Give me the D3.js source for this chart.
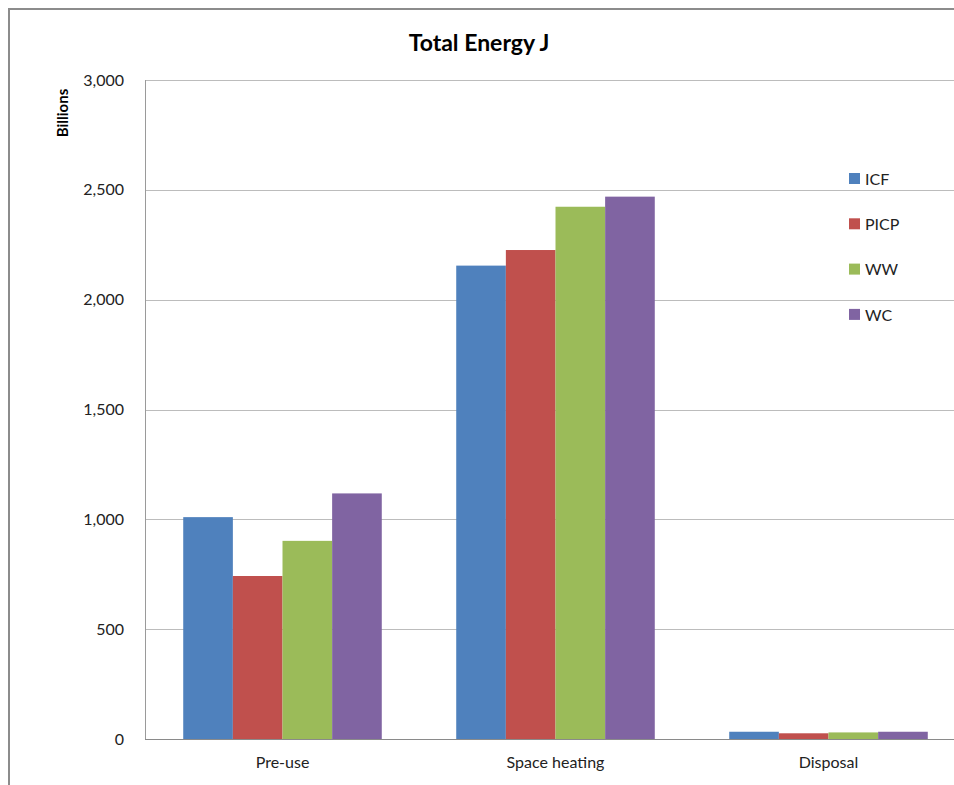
<!DOCTYPE html>
<html>
<head>
<meta charset="utf-8">
<script src="https://cdn.jsdelivr.net/npm/d3@7"></script>
<style>
  html, body { margin: 0; padding: 0; background: #fff; }
  svg { display: block; }
</style>
</head>
<body>
<svg id="chart" width="954" height="785"></svg>
<script>
// Total energy per life-cycle stage, billions of joules
const categories = ["Pre-use", "Space heating", "Disposal"];
const seriesNames = ["ICF", "PICP", "WW", "WC"];
const icf  = [1010, 2155, 33];
const picp = [742, 2226, 26];
const ww   = [902, 2423, 30];
const wc   = [1118, 2469, 33];
const yTicks = [0, 500, 1000, 1500, 2000, 2500, 3000];
const seriesColors = ["#4F81BD", "#C0504D", "#9BBB59", "#8064A2"];

const seriesValues = [icf, picp, ww, wc];
const rows = categories.map((c, i) => ({
  category: c,
  values: seriesNames.map((s, j) => ({ key: s, value: seriesValues[j][i] }))
}));

const svg = d3.select("#chart");
const font = "Lato, 'Open Sans', sans-serif";

// chart-area frame
svg.append("rect")
  .attr("x", 9).attr("y", 9)
  .attr("width", 960).attr("height", 800)
  .attr("fill", "#fff").attr("stroke", "#8c8c8c").attr("stroke-width", 2);

const plot = { left: 145, top: 80, right: 964, bottom: 739 };

const x0 = d3.scaleBand()
  .domain(categories)
  .range([plot.left, plot.right])
  .paddingInner(0).paddingOuter(0);

// 150% gap width between groups, split evenly on both sides
const x1 = d3.scaleBand()
  .domain(seriesNames)
  .range([0, x0.bandwidth()])
  .paddingOuter(0.75)
  .paddingInner(0);

const y = d3.scaleLinear().domain([0, 3000]).range([plot.bottom, plot.top]);
const color = d3.scaleOrdinal().domain(seriesNames).range(seriesColors);

// gridlines
svg.append("g")
  .selectAll("line")
  .data(yTicks.filter(t => t > 0))
  .join("line")
  .attr("x1", plot.left).attr("x2", plot.right)
  .attr("y1", d => Math.round(y(d)) + 0.5).attr("y2", d => Math.round(y(d)) + 0.5)
  .attr("stroke", "#bcbcbc").attr("stroke-width", 1.2);

// bars
svg.append("g")
  .selectAll("g")
  .data(rows)
  .join("g")
  .attr("transform", d => `translate(${x0(d.category) + 1},0)`)
  .selectAll("rect")
  .data(d => d.values)
  .join("rect")
  .attr("x", d => x1(d.key))
  .attr("width", x1.bandwidth())
  .attr("y", d => y(d.value))
  .attr("height", d => y(0) - y(d.value))
  .attr("fill", d => color(d.key));

// y axis line
svg.append("line")
  .attr("x1", plot.left + 0.5).attr("x2", plot.left + 0.5)
  .attr("y1", plot.top).attr("y2", plot.bottom)
  .attr("stroke", "#9a9a9a").attr("stroke-width", 1);

// x axis line
svg.append("line")
  .attr("x1", plot.left).attr("x2", plot.right)
  .attr("y1", Math.round(y(0)) + 0.5).attr("y2", Math.round(y(0)) + 0.5)
  .attr("stroke", "#8a8a8a").attr("stroke-width", 1.2);

// y tick labels
const yAxis = d3.axisLeft(y).tickValues(yTicks).tickSize(0).tickPadding(0)
  .tickFormat(d3.format(","));
const yg = svg.append("g").attr("transform", `translate(${plot.left - 21},0)`).call(yAxis);
yg.select(".domain").remove();
yg.selectAll("text")
  .attr("font-family", font).attr("font-size", 16).attr("fill", "#222");

// x category labels
const xAxis = d3.axisBottom(x0).tickSize(0).tickPadding(0);
const xg = svg.append("g").attr("transform", `translate(1,${plot.bottom + 18})`).call(xAxis);
xg.select(".domain").remove();
xg.selectAll("text")
  .attr("font-family", font).attr("font-size", 16).attr("fill", "#222");

// title
svg.append("text")
  .attr("x", 479).attr("y", 51)
  .attr("text-anchor", "middle")
  .attr("font-family", font).attr("font-weight", "bold").attr("font-size", 23)
  .attr("fill", "#000")
  .text("Total Energy J");

// y axis title
svg.append("text")
  .attr("transform", "translate(68,113) rotate(-90)")
  .attr("text-anchor", "middle")
  .attr("font-family", font).attr("font-weight", "bold").attr("font-size", 15)
  .attr("fill", "#000")
  .text("Billions");

// legend
const legend = svg.append("g")
  .selectAll("g")
  .data(seriesNames)
  .join("g")
  .attr("transform", (d, i) => `translate(849,${178 + i * 45.3})`);
legend.append("rect")
  .attr("x", 0).attr("y", -5)
  .attr("width", 11).attr("height", 11)
  .attr("fill", d => color(d));
legend.append("text")
  .attr("x", 16).attr("y", 1).attr("dy", "0.35em")
  .attr("font-family", font).attr("font-size", 16).attr("fill", "#222")
  .text(d => d);
</script>
</body>
</html>
